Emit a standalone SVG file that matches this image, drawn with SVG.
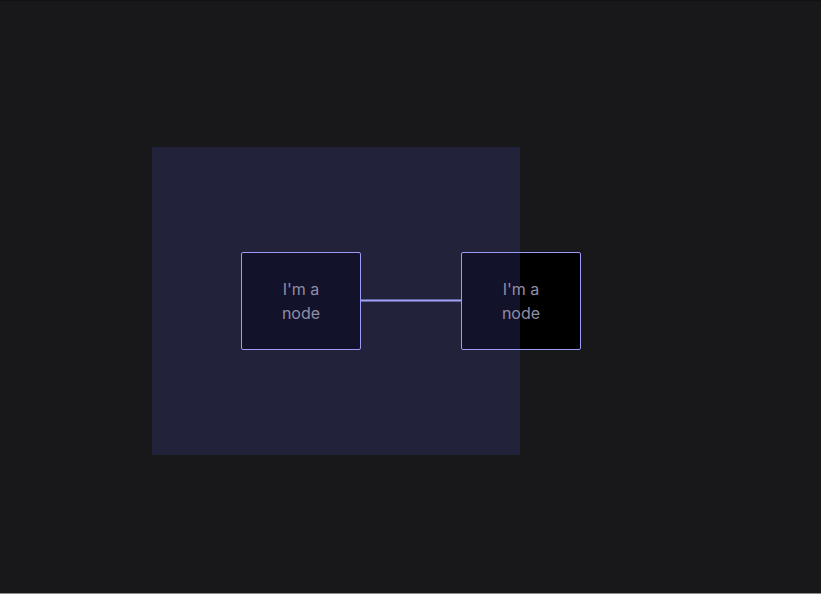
<svg xmlns="http://www.w3.org/2000/svg" width="821" height="600" viewBox="0 0 821 600">
<style>
.bg{fill:#18181a}
.nodefill{fill:#000000}
.nodeborder{fill:none;stroke:#9c9cf8;stroke-width:1}
.label{font-family:Inter,"Liberation Sans",sans-serif;font-size:16px;fill:#8e8ea6;text-anchor:middle}
.edge{stroke:#a4a4ff;stroke-width:2;fill:none}
.overlay{fill:#36367e;fill-opacity:0.33}
</style>
<rect x="0" y="0" width="821" height="600" fill="#ffffff"/>
<rect class="bg" x="0" y="0" width="821" height="593"/>
<rect x="0" y="0" width="821" height="1" fill="#111113"/>
<rect x="0" y="593" width="821" height="1" fill="#8a8a8a"/>
<g id="node-fills">
<rect class="nodefill" x="241.5" y="252.5" width="119" height="97" rx="1.5"/>
<rect class="nodefill" x="461.5" y="252.5" width="119" height="97" rx="1.5"/>
</g>
<g id="group-1">
<rect class="overlay" x="152" y="147" width="368" height="308"/>
</g>
<g id="connectors">
<line class="edge" x1="360.5" y1="300.5" x2="461.5" y2="300.5"/>
</g>
<g id="node-1">
<rect class="nodeborder" x="241.5" y="252.5" width="119" height="97" rx="1.5"/>
<text class="label" x="301" y="295">I'm a</text>
<text class="label" x="301" y="319">node</text>
</g>
<g id="node-2">
<rect class="nodeborder" x="461.5" y="252.5" width="119" height="97" rx="1.5"/>
<text class="label" x="521" y="295">I'm a</text>
<text class="label" x="521" y="319">node</text>
</g>
</svg>
